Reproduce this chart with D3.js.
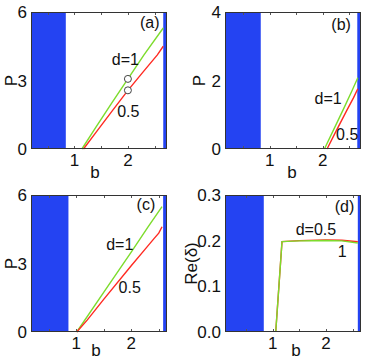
<!DOCTYPE html>
<meta charset="utf-8">
<style>
	body { margin: 0; background: #fff; }
	svg { font-family: "Liberation Sans", Arial, sans-serif; }
	.tick-label { font-size: 17px; fill: #111; }
	.axis-title { font-size: 17px; fill: #111; }
	.note { font-size: 16px; fill: #111; }
</style>
<body>
<script src="https://d3js.org/d3.v7.min.js"></script>
<script>

	// (a) P vs b
	var aGreen = [[1.14, 0], [1.4, 0.95], [1.7, 2.02], [2.0, 3.07], [2.3, 4.12], [2.66, 5.3]];
	var aRed = [[1.17, 0], [1.4, 0.72], [1.7, 1.65], [2.0, 2.57], [2.3, 3.42], [2.55, 4.12], [2.66, 4.5]];
	var aMarks = [[2.0, 3.07], [2.0, 2.57]];
	var aNotes = [["d=1", 1.7, 3.68], ["0.5", 1.8, 1.41]];

	// (b) P vs b
	var bGreen = [[2.03, 0], [2.2, 0.55], [2.4, 1.2], [2.55, 1.7], [2.66, 2.08]];
	var bRed = [[2.08, 0], [2.25, 0.52], [2.45, 1.12], [2.58, 1.5], [2.66, 1.76]];
	var bNotes = [["d=1", 1.845, 1.32], ["0.5", 2.25, 0.26]];

	// (c) P vs b
	var cGreen = [[1.01, 0], [1.5, 1.74], [2.0, 3.5], [2.3, 4.58], [2.56, 5.49]];
	var cRed = [[1.01, 0], [1.2, 0.52], [1.5, 1.43], [2.0, 2.9], [2.25, 3.62], [2.41, 4.08], [2.5, 4.33], [2.56, 4.61]];
	var cNotes = [["d=1", 1.545, 3.59], ["0.5", 1.77, 1.7]];

	// (d) Re(delta) vs b
	var dRed = [[1.055, 0], [1.173, 0.198], [1.5, 0.2], [2.0, 0.2015], [2.3, 0.201], [2.6, 0.1975]];
	var dGreen = [[1.055, 0], [1.173, 0.198], [1.5, 0.1995], [2.0, 0.2005], [2.3, 0.1995], [2.6, 0.195]];
	var dNotes = [["d=0.5", 1.43, 0.2126], ["1", 2.22, 0.165]];

	var xTickLabels = [1, 2];
	var xMinorTicks = [0.5, 1, 1.5, 2, 2.5];

	var blue = "#2443f2",
		green = "#7ddc2c",
		red = "#ff2a22";

	var panels = [
		{ tag: "(a)", left: 31, top: 12, xDom: [0.19, 2.73], yDom: [0, 6], yTicks: [0, 3, 6], fmt: d3.format("d"),
		  band: [0.84, 2.66], green: aGreen, red: aRed, marks: aMarks, notes: aNotes, tagAt: [2.59, 5.29],
		  yTitle: "P", titleX: 17, bX: 95, bY: 178 },
		{ tag: "(b)", left: 225, top: 12, xDom: [0.156, 2.72], yDom: [0, 4], yTicks: [0, 2, 4], fmt: d3.format("d"),
		  band: [0.83, 2.65], green: bGreen, red: bRed, marks: [], notes: bNotes, tagAt: [2.53, 3.48],
		  yTitle: "P", titleX: 205, bX: 292, bY: 178 },
		{ tag: "(c)", left: 31, top: 195, xDom: [0.18, 2.65], yDom: [0, 6], yTicks: [0, 3, 6], fmt: d3.format("d"),
		  band: [0.86, 2.58], green: cGreen, red: cRed, marks: [], notes: cNotes, tagAt: [2.437, 5.34],
		  yTitle: "P", titleX: 17, bX: 96, bY: 356 },
		{ tag: "(d)", left: 225, top: 195, xDom: [0.1, 2.66], yDom: [0, 0.3], yTicks: [0, 0.1, 0.2, 0.3], fmt: d3.format(".1f"),
		  band: [0.83, 2.6], green: dGreen, red: dRed, marks: [], notes: dNotes, tagAt: [2.534, 0.262],
		  yTitle: "Re(\u03b4)", titleX: 197, bX: 296, bY: 356, redUnder: true }
	];

	var pw = 136, ph = 137;

	var svg = d3.select("body").append("svg")
		.attr("width", 371)
		.attr("height", 359);

	panels.forEach(function(p) {
		var x = d3.scaleLinear().domain(p.xDom).range([p.left, p.left + pw]);
		var y = d3.scaleLinear().domain(p.yDom).range([p.top + ph, p.top]);
		var g = svg.append("g");

		// blue stripes: left block and thin right strip
		g.append("rect")
			.attr("x", x(p.xDom[0])).attr("y", p.top)
			.attr("width", x(p.band[0]) - x(p.xDom[0])).attr("height", ph)
			.style("fill", blue);
		g.append("rect")
			.attr("x", x(p.band[1])).attr("y", p.top)
			.attr("width", x(p.xDom[1]) - x(p.band[1])).attr("height", ph)
			.style("fill", blue);

		// inward ticks on bottom and top
		g.selectAll(".xt").data(xMinorTicks).enter().append("path")
			.attr("d", function(d) {
				var px = Math.round(x(d)) + 0.5;
				return "M" + px + "," + (p.top + ph) + "v-3M" + px + "," + p.top + "v3";
			})
			.style("stroke", "#555").style("stroke-width", 1);

		var line = d3.line()
			.x(function(d) { return x(d[0]); })
			.y(function(d) { return y(d[1]); });

		var order = [[p.green, green], [p.red, red]];
		if (p.redUnder) order.reverse();
		order.forEach(function(s) {
			g.append("path")
				.attr("d", line(s[0]))
				.style("fill", "none")
				.style("stroke", s[1])
				.style("stroke-width", 1.4);
		});

		g.selectAll(".mark").data(p.marks).enter().append("circle")
			.attr("cx", function(d) { return x(d[0]); })
			.attr("cy", function(d) { return y(d[1]); })
			.attr("r", 3.5)
			.style("fill", "#fff")
			.style("stroke", "#444")
			.style("stroke-width", 1);

		// frame
		g.append("rect")
			.attr("x", p.left + 0.5).attr("y", p.top + 0.5)
			.attr("width", pw - 1).attr("height", ph - 1)
			.style("fill", "none")
			.style("stroke", "#333");

		g.selectAll(".xl").data(xTickLabels).enter().append("text")
			.attr("class", "tick-label")
			.attr("x", function(d) { return x(d); })
			.attr("y", p.top + ph + 17)
			.attr("text-anchor", "middle")
			.text(function(d) { return d; });

		g.selectAll(".yl").data(p.yTicks).enter().append("text")
			.attr("class", "tick-label")
			.attr("x", p.left - 4)
			.attr("y", function(d) { return y(d); })
			.attr("dy", "0.36em")
			.attr("text-anchor", "end")
			.text(p.fmt);

		g.append("text")
			.attr("class", "axis-title")
			.attr("x", p.bX)
			.attr("y", p.bY)
			.attr("text-anchor", "middle")
			.text("b");

		g.append("text")
			.attr("class", "axis-title")
			.attr("transform", "translate(" + p.titleX + "," + (p.top + ph / 2) + ") rotate(-90)")
			.attr("text-anchor", "middle")
			.text(p.yTitle);

		g.selectAll(".note").data(p.notes).enter().append("text")
			.attr("class", "note")
			.attr("x", function(d) { return x(d[1]); })
			.attr("y", function(d) { return y(d[2]); })
			.text(function(d) { return d[0]; });

		g.append("text")
			.attr("class", "note")
			.attr("x", x(p.tagAt[0]))
			.attr("y", y(p.tagAt[1]))
			.attr("text-anchor", "end")
			.text(p.tag);
	});
</script>
